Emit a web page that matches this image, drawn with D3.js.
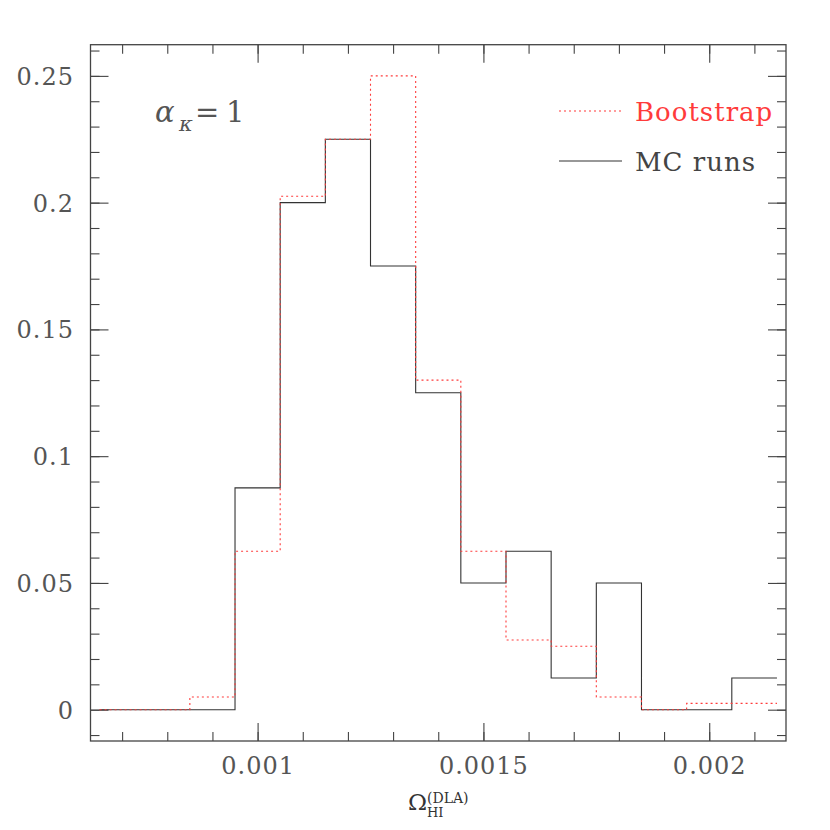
<!DOCTYPE html>
<html><head><meta charset="utf-8">
<script src="https://cdn.jsdelivr.net/npm/d3@7"></script>
<style>body{margin:0;background:#fff}</style>
</head><body>
<svg id="chart" width="830" height="830"></svg>
<script>
const binEdges = [0.00065,0.00075,0.00085,0.00095,0.00105,0.00115,0.00125,0.00135,0.00145,0.00155,0.00165,0.00175,0.00185,0.00195,0.00205,0.00215];
const mcRuns    = [0,0,0,0.0875,0.2,0.225,0.175,0.125,0.05,0.0625,0.0125,0.05,0,0,0.0125];
const bootstrap = [0,0,0.005,0.0625,0.2025,0.225,0.25,0.13,0.0625,0.0275,0.025,0.005,0,0.0025,0.0025];
const xMajorTicks = [0.001,0.0015,0.002];
const xTickLabels = ["0.001","0.0015","0.002"];
const yMajorTicks = [0,0.05,0.1,0.15,0.2,0.25];
const yTickLabels = ["0","0.05","0.1","0.15","0.2","0.25"];
const seriesNames = ["Bootstrap","MC runs"];

const svg = d3.select("#chart");
const L=90.5, R=786, T=44.7, B=741;
const x = d3.scaleLinear().domain([0.00063,0.00217]).range([L,R]);
const y = d3.scaleLinear().domain([-0.01235,0.2623]).range([B,T]);

const xMinor = d3.range(7,22).map(k=>k*0.0001);
const yMinor = d3.range(-1,27).map(k=>k*0.01);
const axisColor="#444";
const g = svg.append("g");
function styleAxis(sel){ sel.select(".domain").remove(); sel.selectAll("line").attr("stroke",axisColor).attr("stroke-width",1.1); sel.selectAll("text").remove(); }
g.append("g").attr("transform",`translate(0,${B})`).call(d3.axisBottom(x).tickValues(xMinor).tickSize(-9)).call(styleAxis);
g.append("g").attr("transform",`translate(0,${B})`).call(d3.axisBottom(x).tickValues(xMajorTicks).tickSize(-18)).call(styleAxis);
g.append("g").attr("transform",`translate(0,${T})`).call(d3.axisTop(x).tickValues(xMinor).tickSize(-9)).call(styleAxis);
g.append("g").attr("transform",`translate(0,${T})`).call(d3.axisTop(x).tickValues(xMajorTicks).tickSize(-18)).call(styleAxis);
g.append("g").attr("transform",`translate(${L},0)`).call(d3.axisLeft(y).tickValues(yMinor).tickSize(-9)).call(styleAxis);
g.append("g").attr("transform",`translate(${L},0)`).call(d3.axisLeft(y).tickValues(yMajorTicks).tickSize(-18)).call(styleAxis);
g.append("g").attr("transform",`translate(${R},0)`).call(d3.axisRight(y).tickValues(yMinor).tickSize(-9)).call(styleAxis);
g.append("g").attr("transform",`translate(${R},0)`).call(d3.axisRight(y).tickValues(yMajorTicks).tickSize(-18)).call(styleAxis);
svg.append("rect").attr("x",L).attr("y",T).attr("width",R-L).attr("height",B-T)
  .attr("fill","none").attr("stroke",axisColor).attr("stroke-width",1.3);

const font="DejaVu Serif";
svg.selectAll(".xl").data(xMajorTicks).join("text")
  .attr("x",d=>x(d)+0.5).attr("y",774).attr("text-anchor","middle")
  .attr("font-family",font).attr("font-size",24).attr("letter-spacing",1).attr("fill","#555")
  .text((d,i)=>xTickLabels[i]);
svg.selectAll(".yl").data(yMajorTicks).join("text")
  .attr("x",74).attr("y",d=>y(d)+9).attr("text-anchor","end")
  .attr("font-family",font).attr("font-size",24).attr("letter-spacing",1).attr("fill","#555")
  .text((d,i)=>yTickLabels[i]);

function pts(vals){ const p = vals.map((v,i)=>[binEdges[i],v]); p.push([binEdges[vals.length],vals[vals.length-1]]); return p; }
const line = d3.line().x(d=>x(d[0])).y(d=>y(d[1])).curve(d3.curveStepAfter);
svg.append("path").attr("d",line(pts(mcRuns))).attr("fill","none").attr("stroke","#333").attr("stroke-width",1.1);
svg.append("path").attr("d",line(pts(bootstrap))).attr("fill","none").attr("stroke","#ff3b3b").attr("stroke-width",1.1).attr("stroke-dasharray","2,3");

svg.append("line").attr("x1",559).attr("x2",622).attr("y1",111).attr("y2",111)
  .attr("stroke","#ff3b3b").attr("stroke-width",1.1).attr("stroke-dasharray","2,3");
svg.append("line").attr("x1",559).attr("x2",622).attr("y1",161).attr("y2",161)
  .attr("stroke","#333").attr("stroke-width",1.1);
svg.append("text").attr("x",635).attr("y",121).attr("font-family",font).attr("font-size",26)
  .attr("letter-spacing",1).attr("fill","#ff3b3b").text(seriesNames[0]);
svg.append("text").attr("x",635).attr("y",171).attr("font-family",font).attr("font-size",26)
  .attr("letter-spacing",1).attr("fill","#444").text(seriesNames[1]);

const a = svg.append("text").attr("font-family",font).attr("fill","#555");
a.append("tspan").attr("x",155).attr("y",122).attr("font-size",29).attr("font-style","italic").text("α");
a.append("tspan").attr("x",179).attr("y",131).attr("font-size",21).attr("font-style","italic").text("κ");
a.append("tspan").attr("x",195).attr("y",122).attr("font-size",29).text("=");
a.append("tspan").attr("x",226).attr("y",122).attr("font-size",29).text("1");

const t = svg.append("text").attr("font-family",font).attr("fill","#333");
t.append("tspan").attr("x",408).attr("y",810).attr("font-size",23).text("Ω");
t.append("tspan").attr("x",427).attr("y",803).attr("font-size",14).text("(DLA)");
t.append("tspan").attr("x",427).attr("y",817).attr("font-size",13).text("HI");
</script>
</body></html>
